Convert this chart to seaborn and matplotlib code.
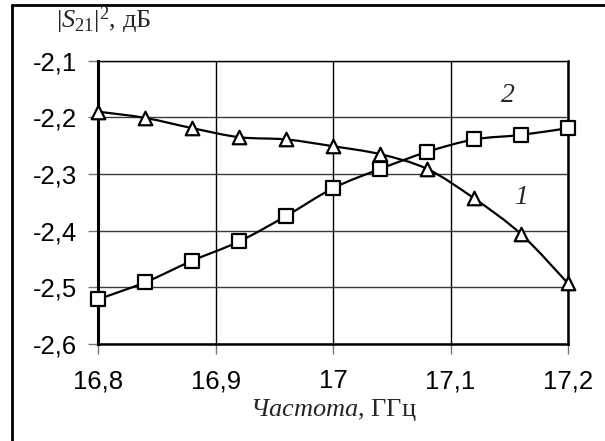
import numpy as np
import pandas as pd
import matplotlib
matplotlib.use("Agg")
import matplotlib.pyplot as plt
import seaborn as sns
from matplotlib.path import Path
from matplotlib.patches import PathPatch
from matplotlib.lines import Line2D

# Frequency sweep, GHz
freq = [16.80, 16.84, 16.88, 16.92, 16.96, 17.00, 17.04, 17.08, 17.12, 17.16, 17.20]
# |S21|^2, dB — curve 1 (triangles) and curve 2 (squares)
s21_curve1 = [-2.190, -2.201, -2.219, -2.235, -2.239, -2.251, -2.265, -2.291, -2.343, -2.406, -2.493]
s21_curve2 = [-2.521, -2.491, -2.453, -2.419, -2.374, -2.325, -2.291, -2.261, -2.239, -2.231, -2.219]

x_ticks = [16.8, 16.9, 17.0, 17.1, 17.2]
x_tick_labels = ["16,8", "16,9", "17", "17,1", "17,2"]
y_ticks = [-2.6, -2.5, -2.4, -2.3, -2.2, -2.1]
y_tick_labels = ["-2,6", "-2,5", "-2,4", "-2,3", "-2,2", "-2,1"]

sns.set_style("white")
plt.rcParams["font.family"] = ["Liberation Sans", "DejaVu Sans"]
plt.rcParams["mathtext.fontset"] = "custom"
plt.rcParams["mathtext.rm"] = "Liberation Serif"
plt.rcParams["mathtext.it"] = "Liberation Serif:italic"

W, H = 605, 441
fig = plt.figure(figsize=(W / 100, H / 100), dpi=100)
left, right, top, bottom = 98.3, 568.0, 60.7, 344.0
ax = fig.add_axes([left / W, 1 - bottom / H, (right - left) / W, (bottom - top) / H])

df = pd.DataFrame({"freq": freq, "c1": s21_curve1, "c2": s21_curve2})


def smooth_path(xs, ys):
    """Cardinal-spline Bezier path through the points (Excel-style smoothing)."""
    p = np.column_stack([xs, ys])
    n = len(p)
    verts = [p[0]]
    codes = [Path.MOVETO]
    for i in range(n - 1):
        p0 = p[i - 1] if i > 0 else p[i]
        p1, p2 = p[i], p[i + 1]
        p3 = p[i + 2] if i + 2 < n else p[i + 1]
        c1 = p1 + (p2 - p0) / 6.0
        c2 = p2 - (p3 - p1) / 6.0
        verts += [c1, c2, p2]
        codes += [Path.CURVE4] * 3
    return Path(verts, codes)


for col in ["c1", "c2"]:
    ax.add_patch(PathPatch(smooth_path(df["freq"], df[col]), fill=False,
                           edgecolor="black", lw=1.6, zorder=3, capstyle="round"))

sns.scatterplot(data=df, x="freq", y="c1", marker="^", s=95, facecolor="white",
                edgecolor="black", linewidth=1.6, ax=ax, zorder=4, clip_on=False)
sns.scatterplot(data=df, x="freq", y="c2", marker="s", s=90, facecolor="white",
                edgecolor="black", linewidth=1.6, ax=ax, zorder=4, clip_on=False)

ax.set_xlim(16.8, 17.2)
ax.set_ylim(-2.6, -2.1)
ax.set_xticks(x_ticks)
ax.set_xticklabels(x_tick_labels)
ax.set_yticks(y_ticks)
ax.set_yticklabels(y_tick_labels)
ax.set_xlabel("")
ax.set_ylabel("")

ax.yaxis.grid(True, color="#3a3a3a", lw=1.0)
ax.xaxis.grid(True, color="black", lw=1.0)
ax.set_axisbelow(True)

for side, lw in [("left", 2.2), ("bottom", 1.8), ("right", 1.8), ("top", 1.0)]:
    ax.spines[side].set_visible(True)
    ax.spines[side].set_color("black")
    ax.spines[side].set_linewidth(lw)

ax.tick_params(axis="both", direction="out", length=7, width=1, color="#777777",
               labelsize=18.5, labelcolor="black")
ax.tick_params(axis="y", pad=8)
ax.tick_params(axis="x", pad=11)
ax.tick_params(bottom=True, left=True)

# Curve numbers
ax.text(17.149, -2.162, "2", family="Liberation Serif", style="italic", fontsize=20,
        ha="center", va="center")
ax.text(17.160, -2.342, "1", family="Liberation Serif", style="italic", fontsize=20,
        ha="center", va="center")

# Axis titles
fig.text(56 / W, 1 - 20 / H, r"$|S_{21}|^2$, дБ", family="Liberation Serif",
         fontsize=19, ha="left", va="center")
fig.text((left + right) / 2 / W, 1 - 410 / H, r"$\mathit{Частота}$, ГГц",
         family="Liberation Serif", fontsize=19, ha="center", va="center")

# Outer frame
fig.add_artist(Line2D([12 / W, 12 / W], [0, 1 - 5 / H], color="black", lw=2,
                      transform=fig.transFigure))
fig.add_artist(Line2D([12 / W, 1], [1 - 5 / H, 1 - 5 / H], color="black", lw=2,
                      transform=fig.transFigure))

fig.savefig("out.png", dpi=100)
